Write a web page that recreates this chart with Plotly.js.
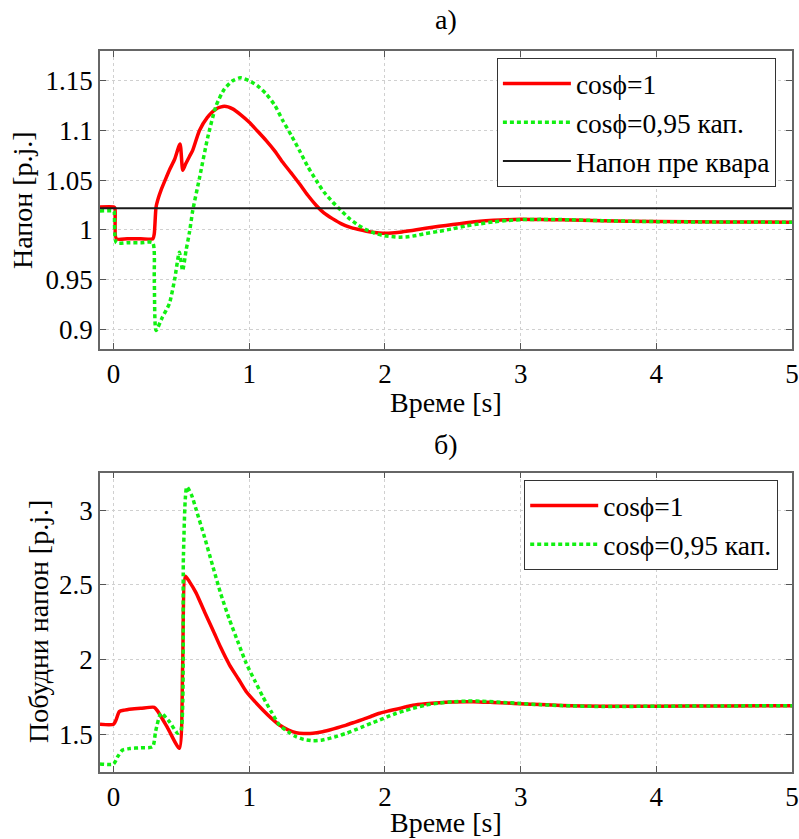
<!DOCTYPE html>
<html>
<head>
<meta charset="utf-8">
<script src="https://cdn.plot.ly/plotly-3.0.1.min.js"></script>
<style>
html,body{margin:0;padding:0;background:#fff;}
#chart{width:799px;height:839px;}
</style>
</head>
<body>
<div id="chart"></div>
<script>
// ---------- data (a) voltage ----------
const tV1 = [-0.1,0.0,0.01,0.02,0.1,0.2,0.29,0.30,0.313,0.33,0.35,0.38,0.411,0.45,0.49,0.51,0.53,0.56,0.583,0.633,0.69,0.756,0.817,0.878,0.94,1.0,1.06,1.125,1.19,1.247,1.31,1.37,1.43,1.494,1.55,1.616,1.68,1.74,1.80,1.863,1.925,1.985,2.05,2.108,2.17,2.232,2.3,2.4,2.5,2.6,2.7,2.8,2.9,3.0,3.15,3.3,3.6,4.0,4.5,5.0];
const vV1 = [1.023,1.023,1.022,0.991,0.991,0.991,0.991,0.996,1.0228,1.032,1.040,1.050,1.060,1.071,1.0865,1.060,1.066,1.074,1.080,1.100,1.113,1.1217,1.1244,1.1217,1.1155,1.1083,1.0995,1.0898,1.079,1.068,1.057,1.0463,1.035,1.0245,1.017,1.011,1.006,1.0027,1.0005,0.9986,0.9973,0.9966,0.9968,0.9976,0.9988,1.0,1.0015,1.0035,1.0053,1.007,1.0085,1.0095,1.0102,1.0105,1.0104,1.0100,1.0092,1.0083,1.0078,1.0077];

const tV2 = [-0.1,0.0,0.005,0.02,0.1,0.2,0.288,0.30,0.313,0.36,0.411,0.45,0.485,0.509,0.534,0.56,0.583,0.633,0.694,0.756,0.817,0.878,0.933,1.0,1.06,1.125,1.19,1.247,1.31,1.37,1.43,1.494,1.55,1.616,1.68,1.74,1.80,1.863,1.925,1.985,2.05,2.108,2.17,2.232,2.3,2.4,2.5,2.6,2.7,2.8,2.9,3.0,3.15,3.3,3.6,4.0,4.5,5.0];
const vV2 = [1.019,1.019,1.018,0.987,0.987,0.987,0.987,0.95,0.8987,0.912,0.9256,0.950,0.9775,0.959,0.979,0.998,1.019,1.052,1.093,1.125,1.1418,1.150,1.153,1.150,1.145,1.1368,1.125,1.110,1.095,1.0798,1.064,1.0496,1.038,1.0278,1.019,1.011,1.005,1.000,0.9965,0.9943,0.9932,0.9926,0.9930,0.9943,0.9962,0.9985,1.001,1.004,1.006,1.008,1.0093,1.0102,1.0105,1.0103,1.0092,1.0082,1.0078,1.0077];

const tPre = [-0.1,5.0];
const vPre = [1.0217,1.0217];

// ---------- data (б) excitation voltage ----------
const tE1 = [-0.1,0.0,0.02,0.042,0.08,0.116,0.2,0.30,0.325,0.40,0.485,0.509,0.529,0.56,0.608,0.67,0.731,0.79,0.854,0.92,0.977,1.04,1.1,1.16,1.223,1.29,1.346,1.40,1.469,1.53,1.592,1.65,1.715,1.78,1.838,1.90,1.961,2.02,2.084,2.15,2.207,2.3,2.4,2.5,2.6,2.7,2.8,2.9,3.0,3.15,3.3,3.6,4.0,4.5,5.0];
const vE1 = [1.567,1.567,1.60,1.652,1.662,1.668,1.674,1.681,1.655,1.540,1.406,1.95,2.558,2.52,2.446,2.32,2.20,2.08,1.965,1.87,1.786,1.72,1.663,1.61,1.562,1.528,1.511,1.506,1.507,1.515,1.529,1.544,1.562,1.582,1.600,1.621,1.641,1.655,1.668,1.683,1.695,1.705,1.712,1.716,1.718,1.717,1.713,1.709,1.705,1.699,1.693,1.687,1.688,1.690,1.691];

const tE2 = [-0.1,0.0,0.03,0.066,0.12,0.2,0.288,0.31,0.35,0.411,0.473,0.497,0.515,0.54,0.575,0.608,0.67,0.731,0.79,0.854,0.92,0.977,1.04,1.1,1.16,1.223,1.29,1.346,1.40,1.469,1.53,1.592,1.65,1.715,1.78,1.838,1.90,1.961,2.02,2.084,2.15,2.207,2.3,2.4,2.5,2.6,2.7,2.8,2.9,3.0,3.15,3.3,3.6,4.0,4.5,5.0];
const vE2 = [1.302,1.302,1.35,1.395,1.405,1.410,1.417,1.52,1.641,1.585,1.507,1.529,2.70,3.155,3.10,3.005,2.82,2.625,2.44,2.267,2.11,1.976,1.86,1.752,1.655,1.562,1.515,1.484,1.466,1.457,1.461,1.473,1.488,1.507,1.530,1.551,1.574,1.596,1.618,1.641,1.659,1.674,1.695,1.709,1.718,1.722,1.722,1.718,1.712,1.706,1.698,1.692,1.686,1.688,1.690,1.691];

const xTicks = [0,1,2,3,4,5];
const xTickText = ['0','1','2','3','4','5'];
const yTicksA = [0.9,0.95,1.0,1.05,1.1,1.15];
const yTickTextA = ['0.9','0.95','1','1.05','1.1','1.15'];
const yTicksB = [1.5,2,2.5,3];
const yTickTextB = ['1.5','2','2.5','3'];

const nameRed = 'cosϕ=1';
const nameGreen = 'cosϕ=0,95 кап.';
const namePre = 'Напон пре квара';

// ---------- styles ----------
const RED = {color:'#ff0000', width:3.5, shape:'spline', smoothing:0.6};
const GREEN = {color:'#11f011', width:3.5, dash:'4px,3px', shape:'spline', smoothing:0.6};
const FONT = 'Liberation Serif';

const traces = [
  {x:tV1, y:vV1, name:nameRed, mode:'lines', line:RED, xaxis:'x', yaxis:'y', legend:'legend', legendgroup:'a1'},
  {x:tV2, y:vV2, name:nameGreen, mode:'lines', line:GREEN, xaxis:'x', yaxis:'y', legend:'legend', legendgroup:'a2'},
  {x:tPre, y:vPre, name:namePre, mode:'lines', line:{color:'#1a1a1a', width:2}, xaxis:'x', yaxis:'y', legend:'legend', legendgroup:'a3'},
  {x:tE1, y:vE1, name:nameRed, mode:'lines', line:RED, xaxis:'x2', yaxis:'y2', legend:'legend2', legendgroup:'b1'},
  {x:tE2, y:vE2, name:nameGreen, mode:'lines', line:GREEN, xaxis:'x2', yaxis:'y2', legend:'legend2', legendgroup:'b2'}
];

const W = 799, H = 839;
const px = v => v / W;
const py = v => 1 - v / H;

function axisBase() {
  return {
    showline:true, linecolor:'#666', linewidth:1.5, mirror:'ticks',
    ticks:'inside', ticklen:6, tickcolor:'#555', tickwidth:1,
    showgrid:true, gridcolor:'#d0d0d0', griddash:'dot', gridwidth:1,
    zeroline:false, fixedrange:true,
    tickfont:{family:FONT, size:27, color:'#000'}
  };
}

const xA = Object.assign(axisBase(), {domain:[px(100), px(792)], range:[-0.1,5], anchor:'y', tickvals:xTicks, ticktext:xTickText, ticklabelstandoff:0});
const yA = Object.assign(axisBase(), {domain:[py(349), py(51)], range:[0.88,1.18], anchor:'x', tickvals:yTicksA, ticktext:yTickTextA, ticklabelstandoff:0});
const xB = Object.assign(axisBase(), {domain:[px(100), px(792)], range:[-0.1,5], anchor:'y2', tickvals:xTicks, ticktext:xTickText, ticklabelstandoff:0});
const yB = Object.assign(axisBase(), {domain:[py(771.7), py(472.7)], range:[1.25,3.25], anchor:'x2', tickvals:yTicksB, ticktext:yTickTextB, ticklabelstandoff:0});

function legendBase(x, y) {
  return {x:x, y:y, xanchor:'left', yanchor:'top', xref:'paper', yref:'paper',
    bgcolor:'#ffffff', bordercolor:'#333', borderwidth:1.2,
    font:{family:FONT, size:27.5, color:'#000'}, itemwidth:68,
    traceorder:'grouped', tracegroupgap:0};
}

const ann = (text, x, y, extra) => Object.assign({text:text, x:x, y:y, xref:'paper', yref:'paper',
  showarrow:false, xanchor:'center', yanchor:'middle', font:{family:FONT, size:28, color:'#000'}}, extra || {});

const layout = {
  width:W, height:H, margin:{l:0, r:0, t:0, b:0},
  paper_bgcolor:'#fff', plot_bgcolor:'#fff',
  font:{family:FONT, size:27, color:'#000'},
  xaxis:xA, yaxis:yA, xaxis2:xB, yaxis2:yB,
  showlegend:true,
  legend:legendBase(px(496.7), py(58)),
  legend2:legendBase(px(524), py(480)),
  annotations:[
    ann('а)', px(446), py(20)),
    ann('Време [s]', px(446), py(403)),
    ann('б)', px(446), py(444)),
    ann('Време [s]', px(446), py(822)),
    ann('Напон [p.j.]', px(22), py(200), {textangle:-90}),
    ann('Побудни напон [p.j.]', px(38), py(622), {textangle:-90})
  ]
};

Plotly.newPlot('chart', traces, layout, {displayModeBar:false});
</script>
</body>
</html>
